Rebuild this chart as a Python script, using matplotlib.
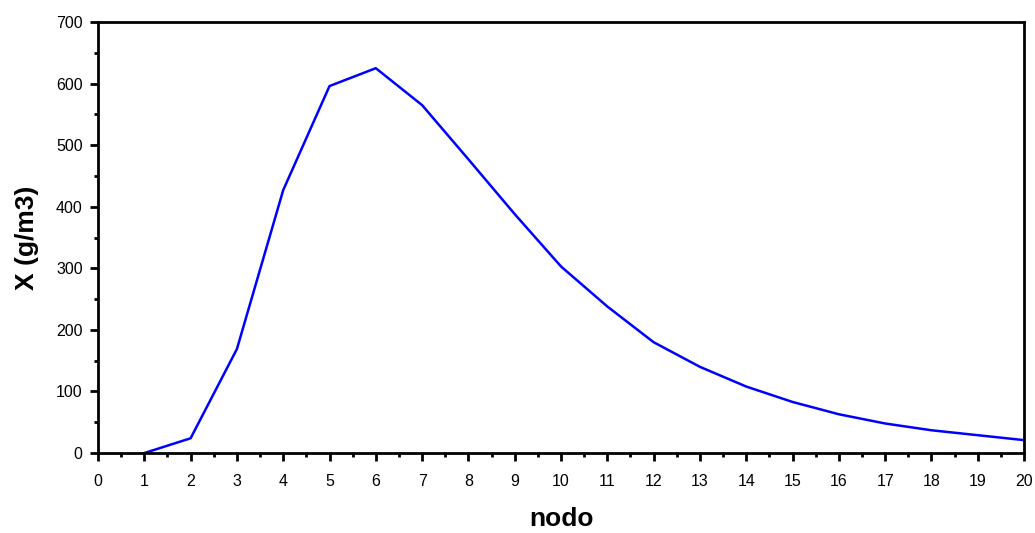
import numpy as np
import matplotlib
matplotlib.use("Agg")
import matplotlib.pyplot as plt
from matplotlib.ticker import MultipleLocator

plt.rcParams['font.family'] = ['Liberation Sans', 'DejaVu Sans']

nodo = [1, 2, 3, 4, 5, 6, 7, 8, 9, 10, 11, 12, 13, 14, 15, 16, 17, 18, 19, 20]
X = [0, 24, 169, 427, 596, 625, 565, 477, 388, 303, 238, 180, 140, 108, 83, 63, 48, 37, 29, 21]

fig = plt.figure(figsize=(10.35, 5.33), dpi=100)
ax = fig.add_axes([0.0947, 0.150, 0.8947, 0.8087])
ax.plot(nodo, X, color='#0000ff', linewidth=1.8)

ax.set_xlim(0, 20)
ax.set_ylim(0, 700)
ax.xaxis.set_major_locator(MultipleLocator(1))
ax.xaxis.set_minor_locator(MultipleLocator(0.5))
ax.yaxis.set_major_locator(MultipleLocator(100))
ax.yaxis.set_minor_locator(MultipleLocator(50))
ax.tick_params(which='major', direction='out', length=6, width=2, labelsize=11.5)
ax.tick_params(which='minor', direction='out', length=3, width=2)
ax.tick_params(axis='x', which='major', pad=9)
ax.tick_params(axis='y', which='major', pad=5)
for s in ax.spines.values():
    s.set_linewidth(2)

ax.set_xlabel('nodo', fontsize=19, fontweight='bold', labelpad=13)
ax.set_ylabel('X (g/m3)', fontsize=19, fontweight='bold', labelpad=12)

fig.savefig('out.png', dpi=100)
